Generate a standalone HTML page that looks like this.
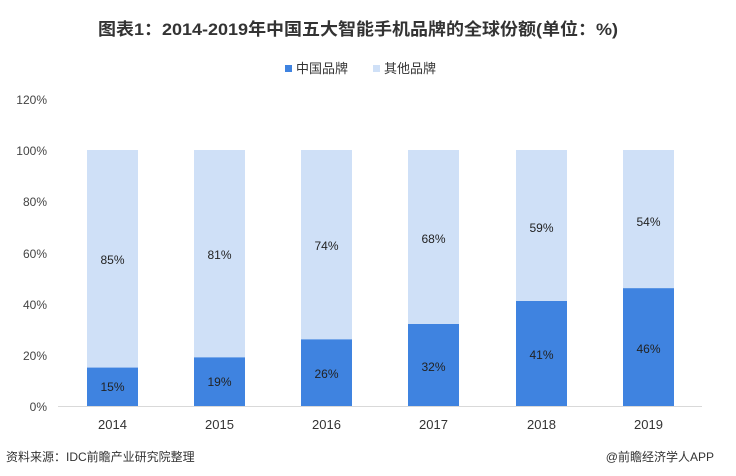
<!DOCTYPE html>
<html><head><meta charset="utf-8"><style>
body{margin:0;background:#fff;}
svg{display:block;font-family:"Liberation Sans","Noto Sans CJK SC",sans-serif;}
</style></head><body>
<svg width="736" height="476" viewBox="0 0 736 476">
<text x="358" y="35" text-anchor="middle" font-size="17" font-weight="bold" fill="#333" textLength="520" lengthAdjust="spacingAndGlyphs">图表1：2014-2019年中国五大智能手机品牌的全球份额(单位：%)</text>
<rect x="285" y="65" width="7" height="7" fill="#3f83e0"/>
<text x="296" y="73" font-size="13" fill="#333">中国品牌</text>
<rect x="373" y="65" width="7" height="7" fill="#cfe0f7"/>
<text x="384" y="73" font-size="13" fill="#333">其他品牌</text>
<g font-size="12" fill="#444" text-anchor="end">
<text x="47" y="104">120%</text>
<text x="47" y="155">100%</text>
<text x="47" y="206">80%</text>
<text x="47" y="258">60%</text>
<text x="47" y="309">40%</text>
<text x="47" y="360">20%</text>
<text x="47" y="411">0%</text>
</g>
<line x1="58" y1="406.5" x2="702" y2="406.5" stroke="#d9d9d9" stroke-width="1"/>
<g font-size="12" fill="#222" text-anchor="middle">
<rect x="87" y="150" width="51" height="256" fill="#cfe0f7"/><rect x="87" y="367.6" width="51" height="38.4" fill="#3f83e0"/>
<text x="112.5" y="264">85%</text><text x="112.5" y="391">15%</text>
<rect x="194" y="150" width="51" height="256" fill="#cfe0f7"/><rect x="194" y="357.4" width="51" height="48.6" fill="#3f83e0"/>
<text x="219.5" y="259">81%</text><text x="219.5" y="386">19%</text>
<rect x="301" y="150" width="51" height="256" fill="#cfe0f7"/><rect x="301" y="339.4" width="51" height="66.6" fill="#3f83e0"/>
<text x="326.5" y="250">74%</text><text x="326.5" y="378">26%</text>
<rect x="408" y="150" width="51" height="256" fill="#cfe0f7"/><rect x="408" y="324" width="51" height="82" fill="#3f83e0"/>
<text x="433.5" y="243">68%</text><text x="433.5" y="371">32%</text>
<rect x="516" y="150" width="51" height="256" fill="#cfe0f7"/><rect x="516" y="301" width="51" height="105" fill="#3f83e0"/>
<text x="541.5" y="232">59%</text><text x="541.5" y="359">41%</text>
<rect x="623" y="150" width="51" height="256" fill="#cfe0f7"/><rect x="623" y="288.2" width="51" height="117.8" fill="#3f83e0"/>
<text x="648.5" y="226">54%</text><text x="648.5" y="353">46%</text>
</g>
<g font-size="13" fill="#333" text-anchor="middle">
<text x="112.5" y="429">2014</text><text x="219.5" y="429">2015</text><text x="326.5" y="429">2016</text>
<text x="433.5" y="429">2017</text><text x="541.5" y="429">2018</text><text x="648.5" y="429">2019</text>
</g>
<text x="6" y="461" font-size="12" fill="#333">资料来源：IDC前瞻产业研究院整理</text>
<text x="714" y="461" font-size="12" fill="#333" text-anchor="end">@前瞻经济学人APP</text>
</svg>
</body></html>
